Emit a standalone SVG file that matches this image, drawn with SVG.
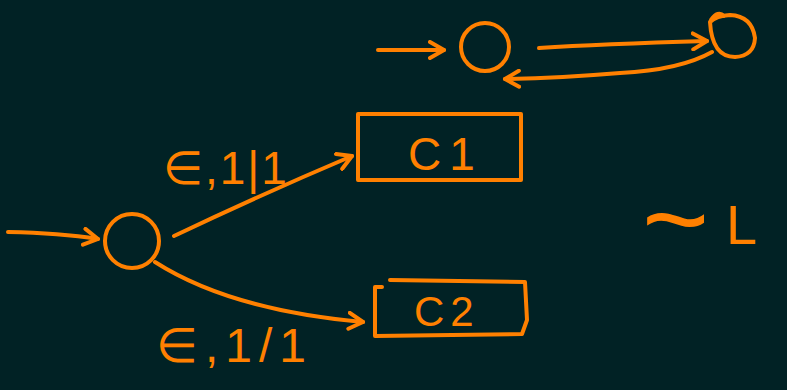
<svg xmlns="http://www.w3.org/2000/svg" width="787" height="390" viewBox="0 0 787 390">
<style>
.s{fill:none;stroke:#ff8000;stroke-width:4;stroke-linecap:round;stroke-linejoin:round}
.t{fill:#ff8000;font-family:"Liberation Sans",Arial,sans-serif}
</style>
<defs>
<marker id="ah" viewBox="-16 -10 20 20" markerWidth="20" markerHeight="20" refX="0" refY="0" orient="auto" markerUnits="userSpaceOnUse">
<path d="M-14,-8 L0,0 L-14,8" fill="none" stroke="#ff8000" stroke-width="4" stroke-linecap="round" stroke-linejoin="round"/>
</marker>
</defs>
<rect width="787" height="390" fill="#012225"/>
<g id="top-start"><circle class="s" cx="485" cy="47" r="24"/></g>
<g id="top-loop"><path class="s" d="M711,20 Q718,10 724,16 M710,22 Q712,57 735,57 Q754,56 755,38 Q752,16 730,15 Q716,16 710,22"/></g>
<g id="main-start"><circle class="s" cx="132" cy="241" r="27"/></g>
<g id="c1"><rect class="s" x="358" y="114" width="163" height="66"/><text class="t" x="408" y="170" font-size="46" letter-spacing="8">C1</text></g>
<g id="c2"><path class="s" d="M382,287 L375,287 L375,336 L522,334 L527,320 L525,282 L390,280"/><text class="t" x="414" y="326" font-size="42" letter-spacing="6">C2</text></g>
<g id="notL"><text class="t" x="642" y="258" font-size="115">~</text><text class="t" x="726" y="244" font-size="56">L</text></g>
<g id="connectors">
<path class="s" d="M378,50 L444,50" marker-end="url(#ah)"/>
<path class="s" d="M539,48 Q600,44 707,41" marker-end="url(#ah)"/>
<path class="s" d="M712,52 Q680,70 620,73 Q560,78 505,79" marker-end="url(#ah)"/>
<path class="s" d="M8,232 Q60,233 98,239" marker-end="url(#ah)"/>
<path class="s" d="M174,236 Q260,195 352,156" marker-end="url(#ah)"/>
<path class="s" d="M155,262 Q230,310 363,322" marker-end="url(#ah)"/>
<text class="t" x="163" y="184" font-size="46" letter-spacing="2">∈,1|1</text>
<text class="t" x="156" y="362" font-size="48" letter-spacing="7">∈,1/1</text>
</g>
</svg>
